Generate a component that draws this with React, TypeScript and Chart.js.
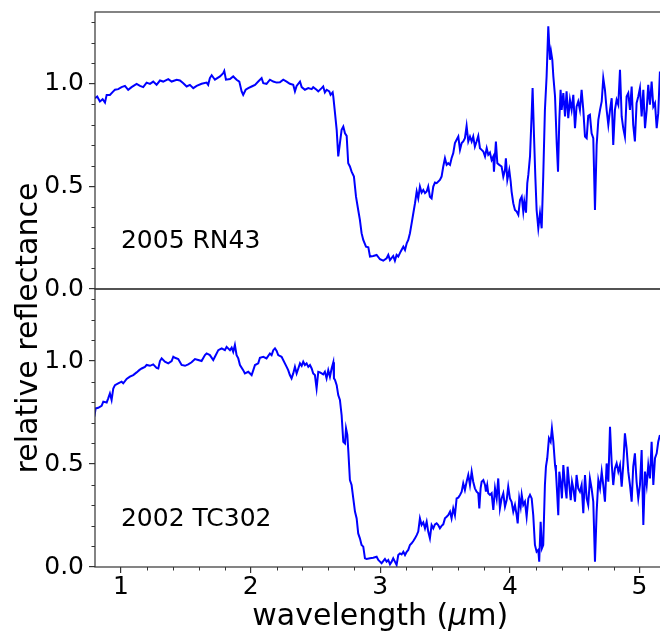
import { useEffect, useRef } from 'react';
import { Chart, registerables } from 'chart.js';

Chart.register(...registerables);

// ---- data (wavelength µm, relative reflectance) ----
const rn43Label = '2005 RN43';
const tc302Label = '2002 TC302';

const rn43: [number, number][] = [
  [0.80, 0.930], [0.817, 0.938], [0.838, 0.914], [0.859, 0.925], [0.877, 0.909], [0.890, 0.946],
  [0.915, 0.946], [0.941, 0.963], [0.954, 0.971], [0.979, 0.974], [1.005, 0.984], [1.031, 0.990],
  [1.056, 0.971], [1.082, 0.984], [1.121, 1.000], [1.147, 0.990], [1.172, 0.984], [1.198, 1.006],
  [1.224, 1.000], [1.249, 1.011], [1.275, 0.995], [1.301, 1.016], [1.326, 1.011], [1.365, 1.023],
  [1.391, 1.011], [1.430, 1.020], [1.455, 1.016], [1.481, 1.003], [1.507, 0.987], [1.532, 0.995],
  [1.558, 0.979], [1.584, 0.990], [1.622, 1.000], [1.661, 1.006], [1.673, 0.995], [1.686, 1.028],
  [1.700, 1.042], [1.725, 1.020], [1.764, 1.036], [1.789, 1.052], [1.797, 1.063], [1.810, 1.020],
  [1.841, 1.023], [1.866, 1.036], [1.892, 1.020], [1.913, 1.011], [1.931, 0.963], [1.943, 0.946],
  [1.962, 0.971], [1.982, 0.979], [2.008, 0.987], [2.034, 0.995], [2.059, 1.011], [2.085, 1.028],
  [2.098, 1.003], [2.123, 1.000], [2.149, 1.020], [2.175, 1.011], [2.201, 1.006], [2.226, 1.007],
  [2.252, 1.020], [2.278, 1.011], [2.303, 1.000], [2.329, 0.995], [2.342, 0.963], [2.355, 0.990],
  [2.381, 1.011], [2.394, 0.984], [2.419, 0.971], [2.445, 0.979], [2.471, 0.974], [2.483, 0.984],
  [2.509, 0.971], [2.522, 0.963], [2.548, 0.979], [2.560, 0.987], [2.573, 0.958], [2.587, 0.971],
  [2.607, 0.963], [2.617, 0.946], [2.633, 0.958], [2.638, 0.938], [2.651, 0.857], [2.664, 0.776],
  [2.676, 0.646], [2.689, 0.711], [2.702, 0.776], [2.715, 0.792], [2.728, 0.759], [2.741, 0.746],
  [2.753, 0.613], [2.766, 0.597], [2.779, 0.572], [2.797, 0.548], [2.813, 0.450], [2.830, 0.385],
  [2.843, 0.337], [2.856, 0.272], [2.869, 0.239], [2.890, 0.206], [2.908, 0.203], [2.921, 0.158],
  [2.946, 0.161], [2.972, 0.166], [2.998, 0.145], [3.023, 0.138], [3.049, 0.150], [3.062, 0.166],
  [3.075, 0.141], [3.100, 0.161], [3.113, 0.138], [3.126, 0.166], [3.139, 0.158], [3.157, 0.182],
  [3.178, 0.206], [3.191, 0.190], [3.204, 0.223], [3.216, 0.239], [3.229, 0.272], [3.242, 0.320],
  [3.255, 0.369], [3.268, 0.418], [3.281, 0.475], [3.293, 0.442], [3.306, 0.499], [3.319, 0.470],
  [3.332, 0.483], [3.345, 0.467], [3.358, 0.475], [3.370, 0.499], [3.383, 0.450], [3.396, 0.442],
  [3.409, 0.499], [3.422, 0.519], [3.435, 0.516], [3.460, 0.532], [3.473, 0.548], [3.486, 0.597],
  [3.499, 0.637], [3.512, 0.605], [3.524, 0.613], [3.538, 0.605], [3.550, 0.637], [3.563, 0.662],
  [3.576, 0.711], [3.589, 0.727], [3.602, 0.743], [3.615, 0.678], [3.628, 0.711], [3.640, 0.719],
  [3.653, 0.735], [3.666, 0.795], [3.679, 0.719], [3.692, 0.743], [3.705, 0.719], [3.717, 0.743],
  [3.730, 0.694], [3.743, 0.719], [3.756, 0.746], [3.769, 0.686], [3.782, 0.678], [3.795, 0.670],
  [3.808, 0.646], [3.821, 0.686], [3.833, 0.654], [3.846, 0.665], [3.859, 0.629], [3.872, 0.646],
  [3.877, 0.572], [3.892, 0.719], [3.903, 0.613], [3.918, 0.605], [3.936, 0.597], [3.949, 0.548],
  [3.962, 0.580], [3.969, 0.637], [3.980, 0.532], [3.995, 0.580], [4.006, 0.524], [4.013, 0.475],
  [4.026, 0.418], [4.039, 0.385], [4.052, 0.377], [4.065, 0.361], [4.078, 0.434], [4.091, 0.450],
  [4.103, 0.377], [4.111, 0.426], [4.124, 0.372], [4.134, 0.516], [4.142, 0.556], [4.155, 0.646],
  [4.168, 0.857], [4.175, 0.979], [4.186, 0.743], [4.196, 0.548], [4.206, 0.385], [4.219, 0.296],
  [4.232, 0.369], [4.245, 0.296], [4.257, 0.548], [4.270, 0.873], [4.283, 1.036], [4.296, 1.280],
  [4.309, 1.117], [4.317, 1.158], [4.327, 1.117], [4.335, 1.036], [4.348, 0.938], [4.361, 0.711],
  [4.371, 0.572], [4.381, 0.824], [4.391, 0.971], [4.399, 0.873], [4.412, 0.955], [4.425, 0.841],
  [4.437, 0.963], [4.450, 0.833], [4.463, 0.922], [4.476, 0.873], [4.489, 0.946], [4.502, 0.784],
  [4.514, 0.889], [4.527, 0.914], [4.540, 0.873], [4.553, 0.971], [4.566, 0.873], [4.579, 0.743],
  [4.592, 0.735], [4.604, 0.844], [4.617, 0.849], [4.630, 0.759], [4.643, 0.735], [4.656, 0.385],
  [4.669, 0.702], [4.682, 0.824], [4.695, 0.873], [4.708, 0.914], [4.720, 1.028], [4.733, 0.971],
  [4.746, 0.873], [4.759, 0.800], [4.772, 0.873], [4.785, 0.930], [4.797, 0.702], [4.810, 0.873],
  [4.823, 0.922], [4.836, 0.898], [4.849, 1.068], [4.862, 0.841], [4.874, 0.784], [4.887, 0.743],
  [4.900, 0.938], [4.913, 0.955], [4.926, 0.873], [4.939, 0.987], [4.951, 0.800], [4.964, 0.719],
  [4.977, 0.906], [4.990, 0.938], [5.003, 0.979], [5.016, 0.841], [5.029, 0.971], [5.042, 0.784],
  [5.055, 0.873], [5.067, 0.995], [5.080, 0.898], [5.093, 1.011], [5.106, 0.889], [5.119, 0.906],
  [5.132, 0.784], [5.144, 0.857], [5.157, 1.060],
];

const tc302: [number, number][] = [
  [0.795, 0.730], [0.805, 0.770], [0.825, 0.773], [0.851, 0.783], [0.864, 0.803], [0.890, 0.799],
  [0.902, 0.819], [0.915, 0.843], [0.928, 0.811], [0.941, 0.867], [0.954, 0.883], [0.979, 0.892],
  [1.005, 0.900], [1.018, 0.892], [1.044, 0.913], [1.069, 0.924], [1.095, 0.932], [1.121, 0.945],
  [1.141, 0.956], [1.160, 0.964], [1.185, 0.972], [1.198, 0.981], [1.224, 0.977], [1.249, 0.984],
  [1.275, 0.967], [1.288, 0.964], [1.301, 1.000], [1.314, 1.013], [1.339, 0.997], [1.365, 0.989],
  [1.391, 1.000], [1.404, 1.021], [1.417, 1.016], [1.442, 1.010], [1.468, 0.981], [1.494, 0.977],
  [1.519, 0.984], [1.545, 0.994], [1.571, 1.010], [1.596, 1.005], [1.622, 1.000], [1.648, 1.029],
  [1.661, 1.037], [1.686, 1.029], [1.712, 1.005], [1.725, 1.021], [1.751, 1.053], [1.777, 1.062],
  [1.802, 1.053], [1.815, 1.069], [1.841, 1.053], [1.854, 1.065], [1.866, 1.045], [1.879, 1.078],
  [1.892, 1.029], [1.905, 1.013], [1.918, 0.981], [1.943, 0.956], [1.956, 0.940], [1.982, 0.948],
  [2.008, 0.932], [2.021, 0.956], [2.034, 0.981], [2.059, 0.989], [2.072, 1.016], [2.098, 1.021],
  [2.123, 1.013], [2.149, 1.037], [2.162, 1.029], [2.175, 1.053], [2.188, 1.062], [2.201, 1.049],
  [2.213, 1.029], [2.239, 1.021], [2.278, 0.972], [2.290, 0.956], [2.303, 0.932], [2.316, 0.916],
  [2.329, 0.940], [2.342, 0.972], [2.355, 0.940], [2.368, 0.964], [2.381, 0.989], [2.394, 0.977],
  [2.406, 0.997], [2.419, 0.981], [2.432, 0.989], [2.445, 0.972], [2.458, 0.981], [2.471, 0.964],
  [2.483, 0.940], [2.496, 0.932], [2.509, 0.867], [2.522, 0.948], [2.535, 0.945], [2.548, 0.940],
  [2.560, 0.935], [2.573, 0.948], [2.586, 0.916], [2.599, 0.956], [2.612, 0.924], [2.625, 0.964],
  [2.638, 0.994], [2.643, 0.916], [2.651, 0.908], [2.664, 0.883], [2.676, 0.835], [2.689, 0.811],
  [2.702, 0.738], [2.715, 0.608], [2.728, 0.600], [2.736, 0.673], [2.746, 0.641], [2.754, 0.560],
  [2.766, 0.422], [2.779, 0.398], [2.792, 0.333], [2.805, 0.269], [2.818, 0.236], [2.830, 0.163],
  [2.843, 0.139], [2.856, 0.107], [2.869, 0.099], [2.882, 0.042], [2.895, 0.039], [2.921, 0.042],
  [2.946, 0.045], [2.972, 0.050], [2.985, 0.034], [2.998, 0.026], [3.010, 0.018], [3.023, 0.029],
  [3.036, 0.039], [3.049, 0.026], [3.062, 0.034], [3.075, 0.013], [3.088, 0.026], [3.100, 0.042],
  [3.113, 0.026], [3.126, 0.010], [3.139, 0.058], [3.152, 0.066], [3.165, 0.061], [3.178, 0.074],
  [3.191, 0.058], [3.204, 0.074], [3.216, 0.083], [3.229, 0.107], [3.242, 0.115], [3.255, 0.126],
  [3.268, 0.139], [3.281, 0.155], [3.293, 0.172], [3.306, 0.236], [3.319, 0.204], [3.332, 0.217],
  [3.345, 0.188], [3.358, 0.220], [3.370, 0.172], [3.383, 0.139], [3.396, 0.204], [3.409, 0.188],
  [3.422, 0.207], [3.435, 0.212], [3.447, 0.204], [3.460, 0.188], [3.473, 0.200], [3.486, 0.207],
  [3.499, 0.236], [3.512, 0.244], [3.524, 0.252], [3.538, 0.269], [3.550, 0.236], [3.563, 0.285],
  [3.576, 0.252], [3.589, 0.333], [3.602, 0.337], [3.615, 0.350], [3.628, 0.366], [3.640, 0.406],
  [3.653, 0.374], [3.666, 0.414], [3.679, 0.447], [3.692, 0.398], [3.705, 0.463], [3.717, 0.414],
  [3.730, 0.382], [3.743, 0.366], [3.756, 0.358], [3.764, 0.285], [3.774, 0.382], [3.782, 0.414],
  [3.795, 0.422], [3.808, 0.398], [3.815, 0.366], [3.825, 0.398], [3.833, 0.358], [3.846, 0.350],
  [3.859, 0.358], [3.872, 0.277], [3.885, 0.382], [3.898, 0.333], [3.910, 0.430], [3.923, 0.285],
  [3.936, 0.333], [3.949, 0.358], [3.962, 0.293], [3.975, 0.325], [3.987, 0.390], [4.000, 0.333],
  [4.013, 0.317], [4.026, 0.269], [4.039, 0.301], [4.052, 0.252], [4.060, 0.212], [4.072, 0.333],
  [4.083, 0.293], [4.091, 0.350], [4.103, 0.301], [4.116, 0.317], [4.129, 0.244], [4.142, 0.333],
  [4.155, 0.350], [4.168, 0.333], [4.180, 0.252], [4.193, 0.107], [4.206, 0.074], [4.219, 0.083],
  [4.226, 0.026], [4.237, 0.220], [4.247, 0.091], [4.257, 0.107], [4.270, 0.398], [4.278, 0.487],
  [4.288, 0.528], [4.301, 0.625], [4.314, 0.608], [4.324, 0.673], [4.335, 0.608], [4.348, 0.495],
  [4.355, 0.463], [4.365, 0.350], [4.373, 0.252], [4.381, 0.463], [4.391, 0.414], [4.401, 0.333],
  [4.412, 0.495], [4.425, 0.398], [4.437, 0.333], [4.445, 0.487], [4.458, 0.398], [4.469, 0.325],
  [4.479, 0.414], [4.489, 0.382], [4.502, 0.317], [4.514, 0.447], [4.527, 0.382], [4.540, 0.366],
  [4.553, 0.398], [4.566, 0.261], [4.579, 0.447], [4.592, 0.333], [4.604, 0.301], [4.617, 0.430],
  [4.630, 0.382], [4.643, 0.317], [4.656, 0.026], [4.669, 0.269], [4.682, 0.422], [4.695, 0.382],
  [4.708, 0.463], [4.720, 0.398], [4.733, 0.317], [4.746, 0.503], [4.759, 0.414], [4.772, 0.681],
  [4.785, 0.503], [4.797, 0.398], [4.810, 0.479], [4.823, 0.503], [4.836, 0.463], [4.849, 0.495],
  [4.862, 0.390], [4.874, 0.495], [4.887, 0.649], [4.900, 0.576], [4.913, 0.463], [4.926, 0.398],
  [4.939, 0.317], [4.951, 0.487], [4.964, 0.552], [4.977, 0.414], [4.990, 0.333], [5.003, 0.398],
  [5.016, 0.568], [5.029, 0.204], [5.042, 0.463], [5.055, 0.398], [5.067, 0.495], [5.080, 0.430],
  [5.093, 0.608], [5.106, 0.398], [5.119, 0.528], [5.132, 0.552], [5.144, 0.608], [5.157, 0.641],
];

const xMajorTicks = [1, 2, 3, 4, 5];
const xMinorTicks = [1.2, 1.4, 1.6, 1.8, 2.2, 2.4, 2.6, 2.8, 3.2, 3.4, 3.6, 3.8, 4.2, 4.4, 4.6, 4.8, 5.2];
const yMajorTicks = [0, 0.5, 1.0];
const yMinorTicks = [0.1, 0.2, 0.3, 0.4, 0.6, 0.7, 0.8, 0.9, 1.1, 1.2, 1.3];
const xRange = [0.8, 5.2];
const yRange = [0, 1.35];
const labelPos = [1.0, 0.2];

const FONT = '"DejaVu Sans", sans-serif';
const SPINE = '#333333';
const W = 670;
const H = 633;

function makeChart(canvas: HTMLCanvasElement, points: [number, number][], label: string, bottom: boolean) {
  const panelPlugin = {
    id: 'panel' + (bottom ? 'B' : 'T'),
    afterDraw(chart: any) {
      const { ctx, chartArea: a, scales } = chart;
      const xs = scales.x;
      const ys = scales.y;
      ctx.save();
      // frame (spines)
      ctx.strokeStyle = SPINE;
      ctx.lineWidth = 1.2;
      ctx.strokeRect(a.left, a.top, a.right - a.left, a.bottom - a.top);
      // minor ticks
      ctx.lineWidth = 1;
      ctx.beginPath();
      yMinorTicks.forEach((v) => {
        const p = Math.round(ys.getPixelForValue(v)) + 0.5;
        ctx.moveTo(a.left - 3.5, p);
        ctx.lineTo(a.left, p);
      });
      if (bottom) {
        xMinorTicks.forEach((v) => {
          const p = Math.round(xs.getPixelForValue(v)) + 0.5;
          ctx.moveTo(p, a.bottom);
          ctx.lineTo(p, a.bottom + 3.5);
        });
      }
      ctx.stroke();
      // panel label
      ctx.fillStyle = '#000';
      ctx.font = '25px ' + FONT;
      ctx.textAlign = 'left';
      ctx.textBaseline = 'alphabetic';
      ctx.fillText(label, xs.getPixelForValue(labelPos[0]), ys.getPixelForValue(labelPos[1]));
      if (bottom) {
        // x title with italic mu
        const p1 = 'wavelength (';
        const p2 = 'μ';
        const p3 = 'm)';
        ctx.font = '30px ' + FONT;
        const w1 = ctx.measureText(p1).width;
        const w3 = ctx.measureText(p3).width;
        ctx.font = 'italic 30px ' + FONT;
        const w2 = ctx.measureText(p2).width;
        const cx = (a.left + a.right) / 2;
        let x0 = cx - (w1 + w2 + w3) / 2;
        const by = 625;
        ctx.font = '30px ' + FONT;
        ctx.fillText(p1, x0, by);
        x0 += w1;
        ctx.font = 'italic 30px ' + FONT;
        ctx.fillText(p2, x0, by);
        x0 += w2;
        ctx.font = '30px ' + FONT;
        ctx.fillText(p3, x0, by);
        // y title
        ctx.save();
        ctx.translate(36.5, 328);
        ctx.rotate(-Math.PI / 2);
        ctx.textAlign = 'center';
        ctx.fillText('relative reflectance', 0, 0);
        ctx.restore();
      }
      ctx.restore();
    },
  };

  const tickFont = { family: FONT, size: 25, lineHeight: 1 };
  return new Chart(canvas, {
    type: 'line',
    data: {
      datasets: [
        {
          data: points.map(([x, y]) => ({ x, y })),
          borderColor: '#0000ff',
          borderWidth: 2,
          pointRadius: 0,
          tension: 0,
          fill: false,
        },
      ],
    },
    options: {
      responsive: false,
      animation: false,
      devicePixelRatio: 1,
      events: [],
      layout: { padding: { top: bottom ? 289 : 12, bottom: bottom ? 0 : H - 289, left: 0, right: W - 665.5 } },
      plugins: { legend: { display: false }, tooltip: { enabled: false } },
      scales: {
        x: {
          type: 'linear',
          min: xRange[0],
          max: xRange[1],
          display: bottom,
          afterBuildTicks: (s: any) => {
            s.ticks = xMajorTicks.map((v) => ({ value: v }));
          },
          afterFit: (s: any) => {
            s.height = bottom ? 66 : 0;
            s.paddingLeft = 0;
            s.paddingRight = 0;
          },
          grid: { drawOnChartArea: false, drawTicks: true, tickLength: 6, color: SPINE, lineWidth: 1.2 },
          border: { display: false },
          ticks: {
            font: tickFont,
            color: '#000',
            padding: 2,
            maxRotation: 0,
            autoSkip: false,
            callback: (v: any) => String(v),
          },
        },
        y: {
          type: 'linear',
          min: yRange[0],
          max: yRange[1],
          afterBuildTicks: (s: any) => {
            s.ticks = yMajorTicks.map((v) => ({ value: v }));
          },
          afterFit: (s: any) => {
            s.width = 95;
            s.paddingTop = 0;
            s.paddingBottom = 0;
          },
          grid: { drawOnChartArea: false, drawTicks: true, tickLength: 6, color: SPINE, lineWidth: 1.2 },
          border: { display: false },
          ticks: {
            font: tickFont,
            color: '#000',
            padding: 5,
            callback: (v: any) => Number(v).toFixed(1),
          },
        },
      },
    },
    plugins: [panelPlugin],
  } as any);
}

export default function App() {
  const topRef = useRef<HTMLCanvasElement>(null);
  const botRef = useRef<HTMLCanvasElement>(null);

  useEffect(() => {
    Chart.defaults.font.family = FONT;
    const c1 = makeChart(botRef.current!, tc302, tc302Label, true);
    const c2 = makeChart(topRef.current!, rn43, rn43Label, false);
    return () => {
      c1.destroy();
      c2.destroy();
    };
  }, []);

  const cs: any = { position: 'absolute', left: 0, top: 0, width: W + 'px', height: H + 'px' };
  return (
    <div style={{ position: 'absolute', left: 0, top: 0, width: '660px', height: '633px', overflow: 'hidden', background: '#fff' }}>
      <canvas ref={botRef} width={W} height={H} style={cs} />
      <canvas ref={topRef} width={W} height={H} style={cs} />
    </div>
  );
}
